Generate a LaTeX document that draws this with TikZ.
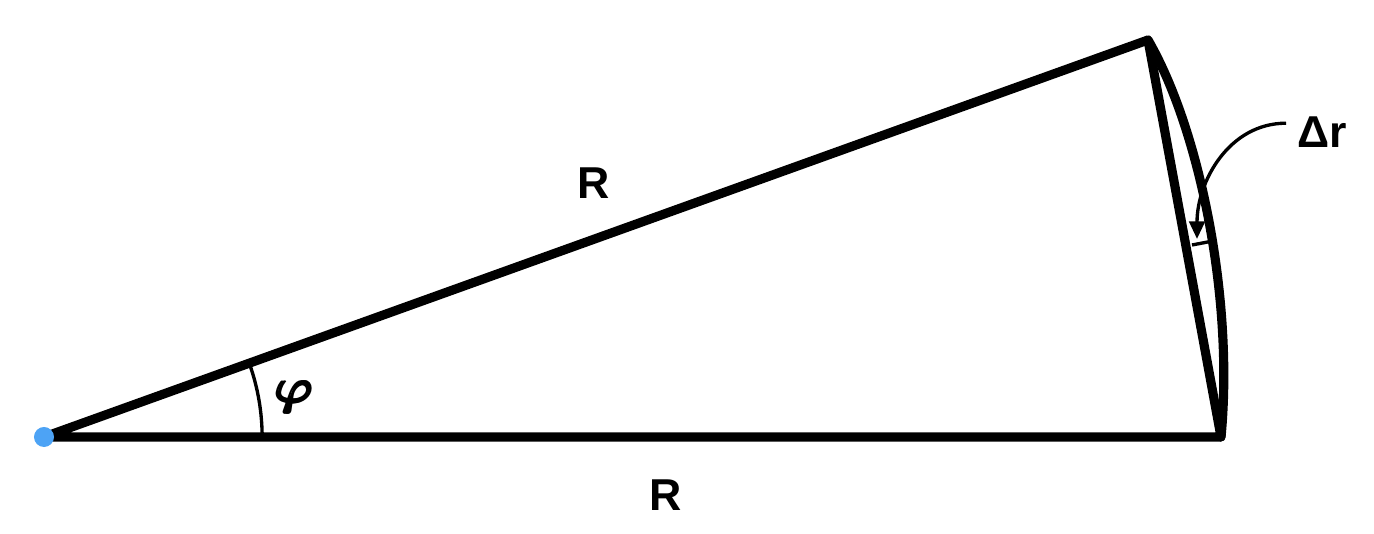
\documentclass[tikz,border=0pt]{standalone}
\usepackage{amsmath}
\usepackage{bm}
\usepackage{fontspec}
\setmainfont{Liberation Sans}
\usetikzlibrary{angles,arrows.meta}
\definecolor{dotblue}{RGB}{77,163,245}
\newcommand{\fatphi}{\rlap{$\bm{\varphi}$}\kern0.4pt\rlap{$\bm{\varphi}$}\kern0.4pt$\bm{\varphi}$}

\begin{document}
\begin{tikzpicture}[x=0.01cm,y=0.01cm,
  side/.style={line width=2.6pt,line cap=round,line join=round},
  lbl/.style={font=\fontsize{12.7}{15}\selectfont\bfseries,inner sep=0pt}]
  \useasboundingbox (0,0) rectangle (1374,534);
  \coordinate (O) at (44,97);
  \coordinate (A) at (1148,494);
  \coordinate (B) at (1221,97);
  \draw [side] (O) -- (B) -- (A) -- cycle;
  \draw [side] (A) .. controls (1200,404) and (1234,234) .. (B);
  \fill [dotblue] (O) circle [radius=0.1cm];
  \pic [draw,line width=0.95pt,angle radius=2.18cm] {angle=B--O--A};
  % sagitta
  \coordinate (c) at (1192,289);
  \coordinate (s) at (1213,293);
  \draw [line width=0.95pt] (c) -- (s);
  \node [lbl] (rtop) at (594,351) {R};
  \node [lbl] (rbot) at (666,39) {R};
  \node [inner sep=0pt,font=\fontsize{15}{17}\selectfont] (phi) at (294,137) {\fatphi};
  \node [lbl] (dr) at (1322,402) {Δr};
  \draw [line width=0.95pt,-{Triangle[length=5pt,width=4.4pt]}] (dr.west) ++(-3pt,2.5pt) to [out=180,in=90] (1197,295);
\end{tikzpicture}
\end{document}
